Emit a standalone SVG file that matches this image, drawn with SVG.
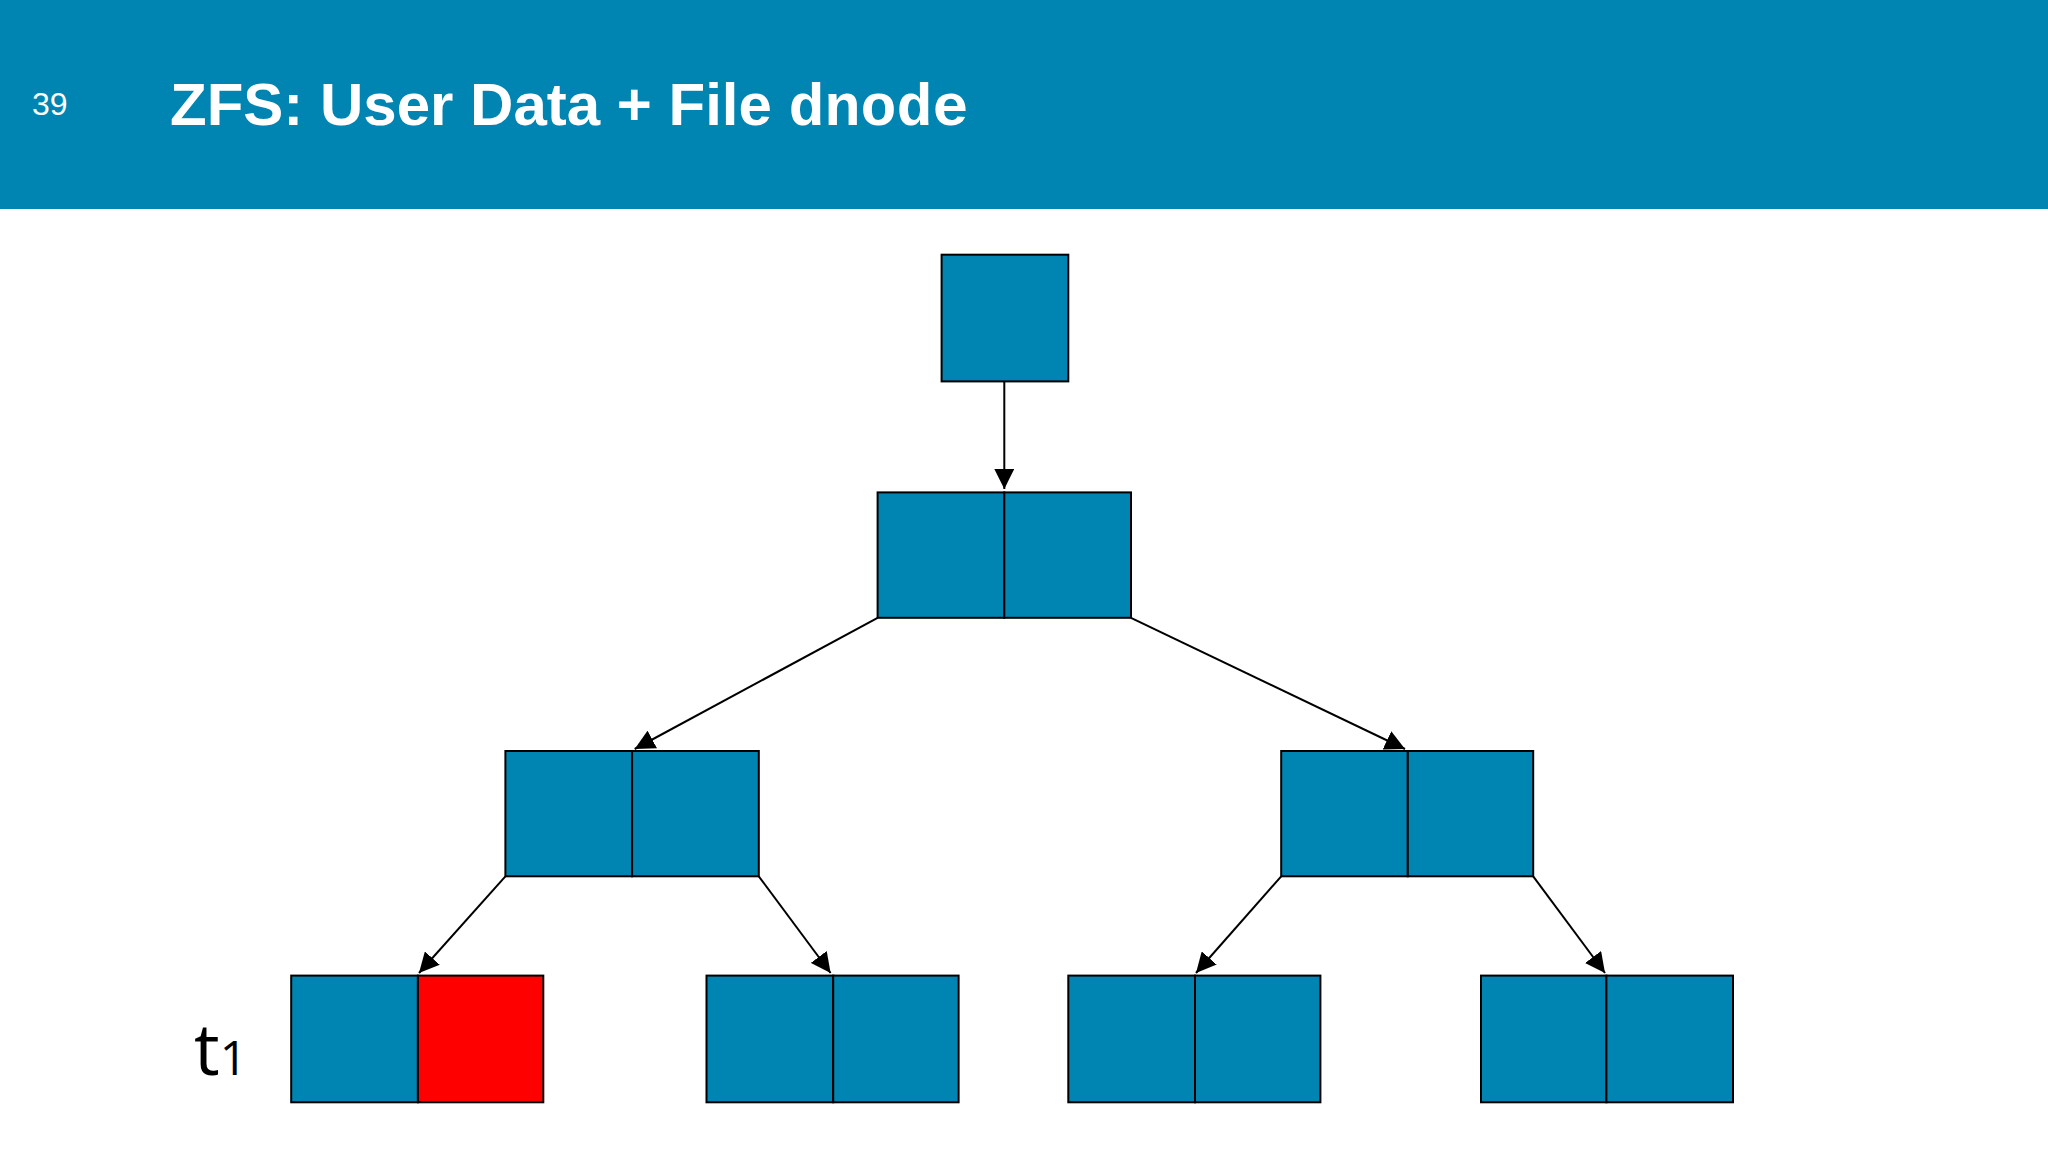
<svg xmlns="http://www.w3.org/2000/svg" width="2048" height="1152" viewBox="0 0 2048 1152">
<defs>
<style>
.b{fill:#0085B2;stroke:#000;stroke-width:2}
.r{fill:#FF0000;stroke:#000;stroke-width:2}
.c{stroke:#000;stroke-width:2;fill:none;marker-end:url(#ah)}
</style>
<marker id="ah" viewBox="0 0 10 10" refX="10" refY="5" markerWidth="9" markerHeight="9" markerUnits="userSpaceOnUse" orient="auto"><path d="M0,0 L10,5 L0,10 z" fill="#000"/></marker>
<marker id="ah2" viewBox="0 0 10 10" refX="10" refY="5" markerWidth="20" markerHeight="20" markerUnits="userSpaceOnUse" orient="auto"><path d="M0,0 L10,5 L0,10 z" fill="#000"/></marker>
</defs>
<style>.c{marker-end:url(#ah2)}</style>
<rect width="2048" height="1152" fill="#fff"/>
<rect width="2048" height="209" fill="#0085B2"/>
<text x="32" y="115" font-family="Liberation Sans, sans-serif" font-size="32" fill="#fff">39</text>
<text x="170" y="125" font-family="Liberation Sans, sans-serif" font-size="60" font-weight="bold" fill="#fff">ZFS: User Data + File <tspan font-family="Liberation Mono, monospace">dnode</tspan></text>
<g id="root"><rect class="b" x="941.6" y="254.7" width="126.7" height="126.7"/></g>
<g id="l2"><rect class="b" x="877.6" y="492.4" width="126.7" height="125.4"/><rect class="b" x="1004.3" y="492.4" width="126.7" height="125.4"/></g>
<g id="l3a"><rect class="b" x="505.4" y="751" width="126.7" height="125.3"/><rect class="b" x="632.1" y="751" width="126.7" height="125.3"/></g>
<g id="l3b"><rect class="b" x="1281.2" y="751" width="126.6" height="125.3"/><rect class="b" x="1407.8" y="751" width="125.4" height="125.3"/></g>
<g id="l4a"><rect class="b" x="291.2" y="975.6" width="126.7" height="126.7"/><rect class="r" x="417.9" y="975.6" width="125.4" height="126.7"/></g>
<g id="l4b"><rect class="b" x="706.5" y="975.6" width="126.7" height="126.7"/><rect class="b" x="833.2" y="975.6" width="125.4" height="126.7"/></g>
<g id="l4c"><rect class="b" x="1068.3" y="975.6" width="126.7" height="126.7"/><rect class="b" x="1195" y="975.6" width="125.4" height="126.7"/></g>
<g id="l4d"><rect class="b" x="1481" y="975.6" width="125.4" height="126.7"/><rect class="b" x="1606.4" y="975.6" width="126.6" height="126.7"/></g>
<g id="t1"><text x="194" y="1075" font-family="Open Sans, sans-serif" font-size="72" fill="#000">t<tspan font-size="48" dy="0">1</tspan></text></g>
<g id="connectors">
<line class="c" x1="1004.3" y1="381.4" x2="1004.3" y2="489"/>
<line class="c" x1="877.6" y1="617.8" x2="634.7" y2="749"/>
<line class="c" x1="1131" y1="617.8" x2="1405" y2="749"/>
<line class="c" x1="505.4" y1="876.3" x2="419" y2="973"/>
<line class="c" x1="758.8" y1="876.3" x2="830.6" y2="973"/>
<line class="c" x1="1281.2" y1="876.3" x2="1196" y2="973"/>
<line class="c" x1="1533.2" y1="876.3" x2="1605" y2="973"/>
</g>
</svg>
